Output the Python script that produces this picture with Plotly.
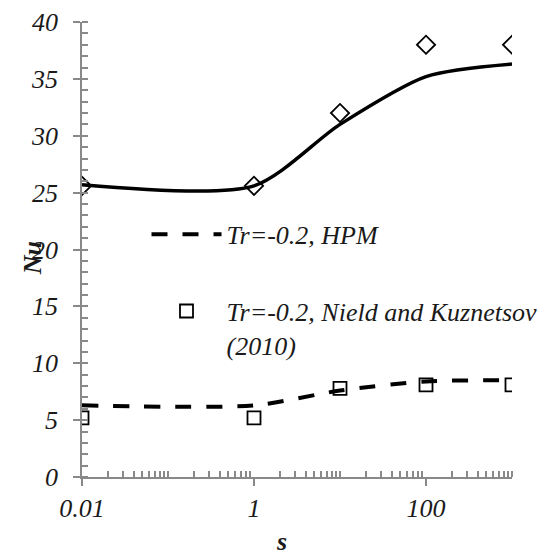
import plotly.graph_objects as go

s_vals = [0.01, 1, 10, 100, 1000]
hpm_solid = [25.7, 25.6, 31.0, 35.2, 36.3]
ref_diamond = [25.6, 25.6, 32.0, 38.0, 38.0]
hpm_dash = [6.3, 6.3, 7.6, 8.4, 8.5]
ref_square = [5.2, 5.2, 7.8, 8.1, 8.1]

x_tick_vals = [0.01, 1, 100]
x_tick_text = ["0.01", "1", "100"]
x_minor_vals = [k * 10.0 ** d for d in range(-2, 3) for k in range(1, 10)
                if not (k == 1 and d in (-2, 0, 2))] + [1000]
y_tick_vals = [0, 5, 10, 15, 20, 25, 30, 35, 40]

FONT = "Times New Roman, Liberation Serif, DejaVu Serif, serif"
AX = "#898989"
TXT = "#1a1a1a"

fig = go.Figure()
fig.add_trace(go.Scatter(x=s_vals, y=hpm_solid, mode="lines",
                         line=dict(color="black", width=3.5, shape="spline", smoothing=0.75),
                         showlegend=False))
fig.add_trace(go.Scatter(x=s_vals, y=ref_diamond, mode="markers",
                         marker=dict(symbol="diamond-open", size=14, color="black",
                                     line=dict(width=1.8)),
                         showlegend=False))
fig.add_trace(go.Scatter(x=s_vals, y=hpm_dash, mode="lines", name="Tr=-0.2, HPM",
                         legendgroup="a",
                         line=dict(color="black", width=4, dash="16px,15px",
                                   shape="spline", smoothing=0.75)))
fig.add_trace(go.Scatter(x=s_vals, y=ref_square, mode="markers",
                         name="Tr=-0.2, Nield and Kuznetsov<br>(2010)",
                         legendgroup="b",
                         marker=dict(symbol="square-open", size=13, color="black",
                                     line=dict(width=1.8))))

fig.update_layout(
    width=553, height=556,
    margin=dict(l=74, r=49, t=14, b=87),
    plot_bgcolor="white", paper_bgcolor="white",
    font=dict(family=FONT, size=26, color=TXT),
    showlegend=True,
    legend=dict(x=0.15, y=0.585, xanchor="left", yanchor="top",
                bgcolor="rgba(0,0,0,0)", traceorder="grouped", tracegroupgap=40,
                valign="top", itemwidth=70,
                font=dict(family=FONT, size=26, style="italic", color=TXT)),
    xaxis=dict(type="log", range=[-2, 3], tickvals=x_tick_vals, ticktext=x_tick_text,
               automargin=False,
               ticks="outside", ticklen=7, tickwidth=1.5, tickcolor=AX,
               showline=True, linecolor=AX, linewidth=1.5, showgrid=False, zeroline=False,
               tickfont=dict(family=FONT, size=26, style="italic", color=TXT),
               minor=dict(tickmode="array", tickvals=x_minor_vals, ticks="inside",
                          ticklen=6, tickwidth=1.5, tickcolor=AX, showgrid=False)),
    yaxis=dict(range=[0, 40], tickvals=y_tick_vals, automargin=False,
               ticks="outside", ticklen=7, tickwidth=1.5, tickcolor=AX,
               showline=True, linecolor=AX, linewidth=1.5, showgrid=False, zeroline=False,
               tickfont=dict(family=FONT, size=26, style="italic", color=TXT),
               ticklabelstandoff=10,
               minor=dict(dtick=1, ticks="inside", ticklen=6, tickwidth=1.5,
                          tickcolor=AX, showgrid=False)),
    annotations=[
        dict(text="<b><i>Nu</i></b>", xref="paper", yref="paper", x=-0.116, y=0.481,
             xanchor="center", yanchor="middle",
             showarrow=False, textangle=-90, font=dict(family=FONT, size=26, color=TXT)),
        dict(text="<b><i>s</i></b>", xref="paper", yref="paper", x=0.465, y=-0.141,
             xanchor="center", yanchor="middle",
             showarrow=False, font=dict(family=FONT, size=26, color=TXT)),
    ],
)

fig.write_html("out.html")
